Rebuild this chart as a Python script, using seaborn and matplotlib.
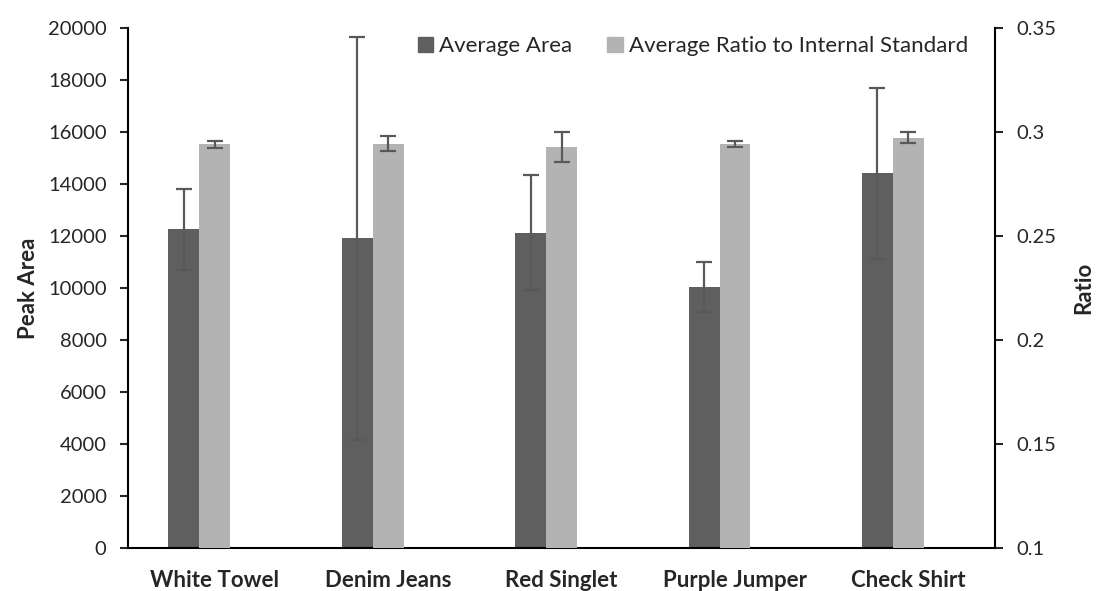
import numpy as np
import matplotlib
matplotlib.use("Agg")
import matplotlib.pyplot as plt
import matplotlib.patches as mpatches
import seaborn as sns

# data
fabrics = ["White Towel", "Denim Jeans", "Red Singlet", "Purple Jumper", "Check Shirt"]
area_mean = [12250, 11910, 12130, 10050, 14410]
area_err = [1540, 7750, 2210, 960, 3300]
ratio_mean = [0.2941, 0.2944, 0.2926, 0.2941, 0.2973]
ratio_err = [0.0016, 0.0036, 0.0072, 0.0014, 0.0025]

dark = "#5f5f5f"
light = "#b3b3b3"
errc = "#595959"
barw = 0.178

sns.set_style("white")
plt.rcParams['font.family'] = ['Lato', 'DejaVu Sans']
fs_tick = 14.5
fs = 16

fig, ax1 = plt.subplots(figsize=(10.99, 5.91), dpi=100)
fig.subplots_adjust(left=0.1165, right=0.9054, bottom=0.0728, top=0.9526)

x = np.arange(len(fabrics))

# primary axis: peak area
sns.barplot(x=fabrics, y=area_mean, ax=ax1, color=dark, width=barw,
            saturation=1, errorbar=None, linewidth=0)
for p in ax1.patches:
    p.set_x(p.get_x() - barw)
ax1.errorbar(x - barw, area_mean, yerr=area_err, fmt="none", ecolor=errc,
             elinewidth=1.6, capsize=6, capthick=1.6, zorder=5)

ax1.set_ylim(0, 20000)
ax1.set_yticks(np.arange(0, 20001, 2000))
ax1.set_xlim(-0.5, 4.5)
ax1.set_ylabel("Peak Area", fontsize=fs, fontweight="bold", labelpad=6)
ax1.set_xlabel("")

# secondary axis: ratio
ax2 = ax1.twinx()
sns.barplot(x=fabrics, y=ratio_mean, ax=ax2, color=light, width=barw,
            saturation=1, errorbar=None, linewidth=0)
ax2.errorbar(x, ratio_mean, yerr=ratio_err, fmt="none", ecolor=errc,
             elinewidth=1.6, capsize=6, capthick=1.6, zorder=5)
ax2.set_ylim(0.1, 0.35)
ax2.set_yticks([0.1, 0.15, 0.2, 0.25, 0.3, 0.35])
ax2.set_yticklabels(["0.1", "0.15", "0.2", "0.25", "0.3", "0.35"])
ax2.set_xlim(-0.5, 4.5)
ax2.set_ylabel("Ratio", fontsize=fs, fontweight="bold", labelpad=12)

for ax in (ax1, ax2):
    for s in ax.spines.values():
        s.set_visible(False)
    ax.grid(False)
ax1.spines["left"].set_visible(True)
ax1.spines["bottom"].set_visible(True)
ax2.spines["right"].set_visible(True)
for s in (ax1.spines["left"], ax1.spines["bottom"], ax2.spines["right"]):
    s.set_linewidth(1.5)
    s.set_color("black")

ax1.tick_params(axis="y", direction="out", length=5.5, width=1.5, pad=10,
                labelsize=fs_tick, left=True)
ax2.tick_params(axis="y", direction="out", length=5.5, width=1.5, pad=10,
                labelsize=fs_tick, right=True)
ax1.tick_params(axis="x", length=0, pad=16, labelsize=fs)
for t in ax1.get_xticklabels():
    t.set_fontweight("bold")
ax2.tick_params(axis="x", length=0, labelbottom=False)

patches = [mpatches.Patch(color=dark, label="Average Area"),
           mpatches.Patch(color=light, label="Average Ratio to Internal Standard")]
fig.legend(handles=patches, loc="center left", bbox_to_anchor=(0.380, 0.922),
           ncol=2, frameon=False, fontsize=fs, borderpad=0, borderaxespad=0,
           handlelength=0.7, handleheight=0.7, handletextpad=0.25,
           columnspacing=1.6)

plt.savefig("out.png", dpi=100)
